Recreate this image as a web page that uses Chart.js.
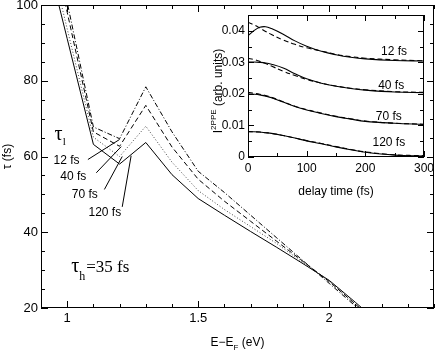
<!DOCTYPE html>
<html>
<head>
<meta charset="utf-8">
<script src="https://cdn.jsdelivr.net/npm/chart.js@4.4.1/dist/chart.umd.min.js"></script>
<style>
  html, body { margin: 0; padding: 0; background: #fff; }
  .wrap { position: relative; width: 436px; height: 353px; }
  .wrap canvas { position: absolute; left: 0; top: 0; }
</style>
</head>
<body>
<div class="wrap">
  <canvas id="mainChart" width="436" height="353"></canvas>
  <canvas id="insetChart" width="436" height="353"></canvas>
</div>
<script>
// main panel: lifetime vs energy, one curve per tau_l
const ENERGY = [0.9, 1.0, 1.1, 1.2, 1.3, 1.4, 1.5, 1.6, 1.7, 1.8, 1.9, 2.0, 2.1, 2.2];
const TAU_12FS = [133.6, 100.7, 67.8, 64.7, 78.4, 66.5, 56.1, 50.5, 44.5, 38.5, 32.5, 26.5, 20.5, 14.5];
const TAU_40FS = [129.7, 98.1, 66.5, 62.7, 73.5, 62.5, 54.0, 48.2, 42.9, 37.6, 32.3, 27.0, 21.0, 15.0];
const TAU_70FS = [122.3, 93.7, 65.1, 60.0, 68.0, 58.5, 51.0, 46.0, 41.5, 37.0, 32.0, 27.0, 21.0, 15.0];
const TAU_120FS = [119.0, 91.1, 63.2, 58.0, 63.7, 55.2, 48.9, 44.5, 40.2, 36.0, 31.7, 27.3, 21.5, 15.5];

const MAIN_X_TICKS = [1, 1.5, 2];
const MAIN_Y_TICKS = [20, 40, 60, 80, 100];
const TAU_L_LABELS = ["12 fs", "40 fs", "70 fs", "120 fs"];

// inset: 2PPE intensity vs delay time (solid = calc, dashed = fit)
const DELAY = [0, 10, 20, 30, 40, 60, 80, 100, 125, 150, 175, 200, 250, 300];
const I_12_CALC = [0.0384, 0.0400, 0.0411, 0.0413, 0.0407, 0.0389, 0.0368, 0.0351, 0.0335, 0.0324, 0.0316, 0.0311, 0.0306, 0.0304];
const I_12_FIT = [0.0427, 0.0419, 0.0409, 0.0398, 0.0388, 0.0371, 0.0357, 0.0346, 0.0336, 0.0325, 0.0318, 0.0313, 0.0308, 0.0305];
const I_40_CALC = [0.0301, 0.0301, 0.0300, 0.0298, 0.0294, 0.0282, 0.0264, 0.0248, 0.0234, 0.0224, 0.0217, 0.0212, 0.0206, 0.0204];
const I_40_FIT = [0.0313, 0.0309, 0.0303, 0.0296, 0.0288, 0.0272, 0.0258, 0.0246, 0.0234, 0.0225, 0.0218, 0.0213, 0.0207, 0.0205];
const I_70_CALC = [0.0200, 0.0199, 0.0197, 0.0193, 0.0188, 0.0174, 0.0160, 0.0149, 0.0138, 0.0128, 0.0120, 0.0113, 0.0107, 0.0103];
const I_70_FIT = [0.0205, 0.0202, 0.0199, 0.0195, 0.0189, 0.0175, 0.0161, 0.0150, 0.0139, 0.0129, 0.0121, 0.0114, 0.0107, 0.0104];
const I_120_CALC = [0.0080, 0.0080, 0.0079, 0.0077, 0.0075, 0.0068, 0.0060, 0.0051, 0.0042, 0.0032, 0.0023, 0.0015, 0.0006, 0.0003];
const I_120_FIT = [0.0081, 0.0080, 0.0079, 0.0077, 0.0075, 0.0068, 0.0060, 0.0052, 0.0043, 0.0033, 0.0024, 0.0016, 0.0007, 0.0004];

const INSET_X_TICKS = [0, 100, 200, 300];
const INSET_Y_TICKS = [0, 0.01, 0.02, 0.03, 0.04];

const SANS = "'Liberation Sans', Arial, Helvetica, sans-serif";
const SERIF = "'Liberation Serif', 'Times New Roman', serif";

function pts(xs, ys) {
  return xs.map((x, i) => ({ x, y: ys[i] }));
}

// text made of runs, for sub/superscripts
function drawRuns(ctx, runs, x, y, align) {
  let w = 0;
  runs.forEach((r) => {
    ctx.font = r.font;
    w += ctx.measureText(r.text).width + (r.gap || 0);
  });
  let cx = align === "center" ? x - w / 2 : align === "right" ? x - w : x;
  ctx.textAlign = "left";
  runs.forEach((r) => {
    ctx.font = r.font;
    ctx.fillText(r.text, cx, y + (r.dy || 0));
    cx += ctx.measureText(r.text).width + (r.gap || 0);
  });
}

// box + inward ticks on all four sides
const frameTicks = {
  id: "frameTicks",
  afterDraw(chart, args, opts) {
    const { ctx, chartArea: a } = chart;
    const xs = chart.scales.x;
    const ys = chart.scales.y;
    ctx.save();
    ctx.strokeStyle = "#000";
    ctx.lineWidth = 1;
    ctx.strokeRect(Math.round(a.left) + 0.5, Math.round(a.top) + 0.5, Math.round(a.width) - 1, Math.round(a.height) - 1);

    const isMajor = (v, step) => Math.abs(v / step - Math.round(v / step)) < 1e-6;
    ctx.beginPath();
    for (let i = Math.ceil(xs.min / opts.xMinor - 1e-6); i * opts.xMinor <= xs.max + 1e-9; i++) {
      const v = i * opts.xMinor;
      const px = Math.round(xs.getPixelForValue(v)) + 0.5;
      const len = isMajor(v, opts.xMajor) ? opts.major : opts.minor;
      ctx.moveTo(px, a.bottom);
      ctx.lineTo(px, a.bottom - len);
      ctx.moveTo(px, a.top);
      ctx.lineTo(px, a.top + len);
    }
    for (let i = Math.ceil(ys.min / opts.yMinor - 1e-6); i * opts.yMinor <= ys.max + 1e-9; i++) {
      const v = i * opts.yMinor;
      const py = Math.round(ys.getPixelForValue(v)) + 0.5;
      const len = isMajor(v, opts.yMajor) ? opts.major : opts.minor;
      ctx.moveTo(a.left, py);
      ctx.lineTo(a.left + len, py);
      ctx.moveTo(a.right, py);
      ctx.lineTo(a.right - len, py);
    }
    ctx.stroke();
    ctx.restore();
  },
};

// labels, pointers and axis title with subscript on the main panel
const mainNotes = {
  id: "mainNotes",
  afterDraw(chart) {
    const { ctx, chartArea: a } = chart;
    const xs = chart.scales.x;
    const ys = chart.scales.y;
    const X = (v) => xs.getPixelForValue(v);
    const Y = (v) => ys.getPixelForValue(v);
    ctx.save();
    ctx.fillStyle = "#000";
    ctx.strokeStyle = "#000";
    ctx.lineWidth = 1;

    const labelPos = [[1.047, 59.0], [1.073, 54.6], [1.117, 49.8], [1.206, 45.1]];
    const pointers = [
      [1.079, 59.2, 1.2, 64.5],
      [1.111, 55.7, 1.206, 62.6],
      [1.142, 51.3, 1.21, 60.0],
      [1.21, 46.7, 1.244, 60.2],
    ];
    ctx.font = `12px ${SANS}`;
    ctx.textAlign = "right";
    ctx.textBaseline = "middle";
    TAU_L_LABELS.forEach((t, i) => {
      ctx.fillText(t, X(labelPos[i][0]), Y(labelPos[i][1]));
    });
    ctx.beginPath();
    pointers.forEach((p) => {
      ctx.moveTo(X(p[0]), Y(p[1]));
      ctx.lineTo(X(p[2]), Y(p[3]));
    });
    ctx.stroke();

    ctx.textBaseline = "alphabetic";
    drawRuns(ctx, [
      { text: "τ", font: `20px ${SERIF}` },
      { text: "l", font: `11px ${SERIF}`, dy: 5 },
    ], X(0.952), Y(64.3), "left");

    drawRuns(ctx, [
      { text: "τ", font: `20px ${SERIF}` },
      { text: "h", font: `12px ${SERIF}`, dy: 8, gap: 1 },
      { text: "=35 fs", font: `17px ${SERIF}` },
    ], X(1.015), Y(29.5), "left");

    drawRuns(ctx, [
      { text: "E\u2212E", font: `12px ${SANS}` },
      { text: "F", font: `8px ${SANS}`, dy: 4 },
      { text: " (eV)", font: `12px ${SANS}` },
    ], (a.left + a.right) / 2, 346, "center");
    ctx.restore();
  },
};

const insetNotes = {
  id: "insetNotes",
  afterDraw(chart) {
    const { ctx, chartArea: a } = chart;
    const xs = chart.scales.x;
    const ys = chart.scales.y;
    const labelPos = [[249, 0.0335], [244, 0.0227], [240, 0.0129], [240, 0.0046]];
    ctx.save();
    ctx.fillStyle = "#000";
    ctx.font = `12px ${SANS}`;
    ctx.textAlign = "center";
    ctx.textBaseline = "middle";
    TAU_L_LABELS.forEach((t, i) => {
      ctx.fillText(t, xs.getPixelForValue(labelPos[i][0]), ys.getPixelForValue(labelPos[i][1]));
    });

    ctx.textBaseline = "alphabetic";
    ctx.translate(a.left - 26, (a.top + a.bottom) / 2 + 5);
    ctx.rotate(-Math.PI / 2);
    drawRuns(ctx, [
      { text: "I", font: `12px ${SANS}` },
      { text: "2PPE", font: `8px ${SANS}`, dy: -6 },
      { text: " (arb. units)", font: `12px ${SANS}` },
    ], 0, 0, "center");
    ctx.restore();
  },
};

function lineSet(label, xs, ys, dash, color) {
  return {
    label,
    data: pts(xs, ys),
    borderColor: color || "#000",
    borderWidth: 1,
    borderDash: dash,
    pointRadius: 0,
    tension: 0,
    fill: false,
  };
}

function tickFont(size) {
  return { family: SANS, size };
}

new Chart(document.getElementById("mainChart"), {
  type: "line",
  data: {
    datasets: [
      lineSet("12 fs", ENERGY, TAU_12FS, [5, 2, 1, 2]),
      lineSet("40 fs", ENERGY, TAU_40FS, [5, 3]),
      lineSet("70 fs", ENERGY, TAU_70FS, [1, 2], "#444"),
      lineSet("120 fs", ENERGY, TAU_120FS, []),
    ],
  },
  options: {
    responsive: false,
    animation: false,
    devicePixelRatio: 1,
    layout: { padding: { left: 0, right: 2, top: 5, bottom: 0 } },
    plugins: {
      legend: { display: false },
      tooltip: { enabled: false },
      frameTicks: { xMinor: 0.1, xMajor: 0.5, yMinor: 5, yMajor: 20, major: 7, minor: 4 },
    },
    scales: {
      x: {
        type: "linear",
        min: 0.9,
        max: 2.4,
        afterBuildTicks: (s) => { s.ticks = MAIN_X_TICKS.map((v) => ({ value: v })); },
        afterFit: (s) => { s.height = 45; s.paddingLeft = 0; s.paddingRight = 0; },
        grid: { display: false, drawTicks: false },
        border: { display: false },
        ticks: { padding: 3, color: "#000", font: tickFont(13), maxRotation: 0, callback: (v) => String(v) },
      },
      y: {
        type: "linear",
        min: 20,
        max: 100,
        afterBuildTicks: (s) => { s.ticks = MAIN_Y_TICKS.map((v) => ({ value: v })); },
        afterFit: (s) => { s.width = 41; s.paddingTop = 0; s.paddingBottom = 0; },
        grid: { display: false, drawTicks: false },
        border: { display: false },
        ticks: { padding: 3, color: "#000", font: tickFont(13), callback: (v) => String(v) },
        title: { display: true, text: "τ (fs)", color: "#000", font: tickFont(12), padding: 0 },
      },
    },
  },
  plugins: [frameTicks, mainNotes],
});

new Chart(document.getElementById("insetChart"), {
  type: "line",
  data: {
    datasets: [
      lineSet("12 fs calc", DELAY, I_12_CALC, []),
      lineSet("12 fs fit", DELAY, I_12_FIT, [5, 3]),
      lineSet("40 fs calc", DELAY, I_40_CALC, []),
      lineSet("40 fs fit", DELAY, I_40_FIT, [5, 3]),
      lineSet("70 fs calc", DELAY, I_70_CALC, []),
      lineSet("70 fs fit", DELAY, I_70_FIT, [5, 3]),
      lineSet("120 fs calc", DELAY, I_120_CALC, []),
      lineSet("120 fs fit", DELAY, I_120_FIT, [5, 3]),
    ].map((d) => Object.assign(d, { tension: 0.4, borderWidth: 1.1 })),
  },
  options: {
    responsive: false,
    animation: false,
    devicePixelRatio: 1,
    layout: { padding: { left: 200, right: 12, top: 15, bottom: 156 } },
    plugins: {
      legend: { display: false },
      tooltip: { enabled: false },
      frameTicks: { xMinor: 50, xMajor: 100, yMinor: 0.005, yMajor: 0.01, major: 6, minor: 4 },
    },
    scales: {
      x: {
        type: "linear",
        min: 0,
        max: 300,
        afterBuildTicks: (s) => { s.ticks = INSET_X_TICKS.map((v) => ({ value: v })); },
        afterFit: (s) => { s.height = 40; s.paddingLeft = 0; s.paddingRight = 0; },
        grid: { display: false, drawTicks: false },
        border: { display: false },
        ticks: { padding: 4, color: "#000", font: tickFont(12), maxRotation: 0, callback: (v) => String(v) },
        title: { display: true, text: "delay time (fs)", color: "#000", font: tickFont(12), padding: { top: 0, bottom: -2 } },
      },
      y: {
        type: "linear",
        min: 0,
        max: 0.045,
        afterBuildTicks: (s) => { s.ticks = INSET_Y_TICKS.map((v) => ({ value: v })); },
        afterFit: (s) => { s.width = 48; s.paddingTop = 0; s.paddingBottom = 0; },
        grid: { display: false, drawTicks: false },
        border: { display: false },
        ticks: { padding: 3, color: "#000", font: tickFont(12), callback: (v) => String(v) },
      },
    },
  },
  plugins: [frameTicks, insetNotes],
});
</script>
</body>
</html>
